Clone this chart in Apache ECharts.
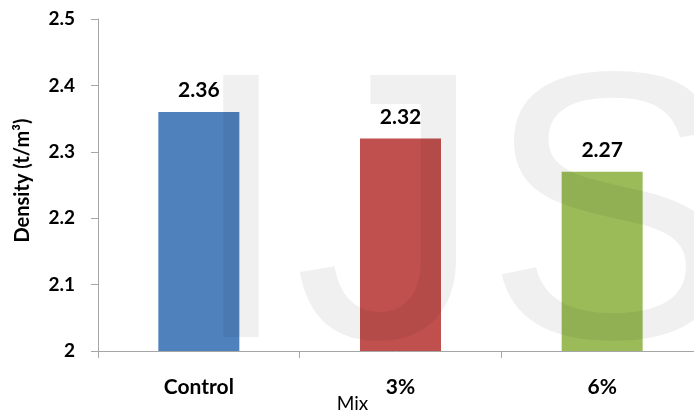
<!DOCTYPE html>
<html>
<head>
<meta charset="utf-8">
<script src="https://cdn.jsdelivr.net/npm/echarts@6/dist/echarts.min.js"></script>
<style>
  html, body { margin: 0; padding: 0; background: #ffffff; }
  #chart { width: 694px; height: 410px; }
</style>
</head>
<body>
<div id="chart"></div>
<script>
// Density of each mix
const categories = ['Control', '3%', '6%'];
const densities = [2.36, 2.32, 2.27];
const barColors = ['#4f81bd', '#c0504d', '#9bbb59'];
const yTicks = { min: 2, max: 2.5, interval: 0.1 };

const FONT = 'Lato, "Open Sans", sans-serif';

const chart = echarts.init(document.getElementById('chart'));

chart.setOption({
  animation: false,
  backgroundColor: '#ffffff',
  grid: {
    left: 98, top: 19, width: 605, height: 332,
    containLabel: false,
    outerBoundsMode: 'none'
  },
  xAxis: {
    type: 'category',
    data: categories,
    name: 'Mix',
    nameLocation: 'middle',
    nameGap: 43,
    nameMoveOverlap: false,
    nameTextStyle: { color: '#000', fontFamily: FONT, fontSize: 19, padding: [0, 0, 0, -96] },
    axisLine: { lineStyle: { color: '#a6a6a6', width: 1 } },
    axisTick: { show: true, alignWithLabel: false, length: 7, lineStyle: { color: '#a6a6a6' } },
    axisLabel: { color: '#000', fontFamily: FONT, fontSize: 21, fontWeight: 'bold', margin: 26 },
    splitLine: { show: false }
  },
  yAxis: {
    type: 'value',
    min: yTicks.min,
    max: yTicks.max,
    interval: yTicks.interval,
    name: 'Density (t/m³)',
    nameLocation: 'middle',
    nameGap: 65,
    nameMoveOverlap: false,
    nameRotate: 90,
    nameTextStyle: { color: '#000', fontFamily: FONT, fontSize: 20, fontWeight: 'bold', padding: [0, 0, 0, 9] },
    axisLine: { show: true, lineStyle: { color: '#a6a6a6', width: 1 } },
    axisTick: { show: true, length: 7, lineStyle: { color: '#a6a6a6' } },
    axisLabel: {
      color: '#000', fontFamily: FONT, fontSize: 19, fontWeight: 'bold', margin: 23,
      formatter: v => String(parseFloat(v.toFixed(1)))
    },
    splitLine: { show: false }
  },
  series: [{
    type: 'bar',
    barWidth: 81,
    z: 2,
    data: densities.map((v, i) => ({ value: v, itemStyle: { color: barColors[i] } })),
    label: {
      show: true,
      position: 'top',
      distance: 11,
      color: '#000',
      fontFamily: FONT,
      fontSize: 21,
      fontWeight: 'bold',
      formatter: p => p.value.toFixed(2)
    }
  }],
  graphic: [
    {
      // journal watermark across the plot
      type: 'text',
      z: 100,
      silent: true,
      style: {
        x: 188,
        y: 232,
        text: 'IJS',
        font: '381px "Liberation Sans", Arial, sans-serif',
        fill: 'rgba(0,0,0,0.06)',
        verticalAlign: 'middle',
        align: 'left'
      }
    }
  ]
});
</script>
</body>
</html>
